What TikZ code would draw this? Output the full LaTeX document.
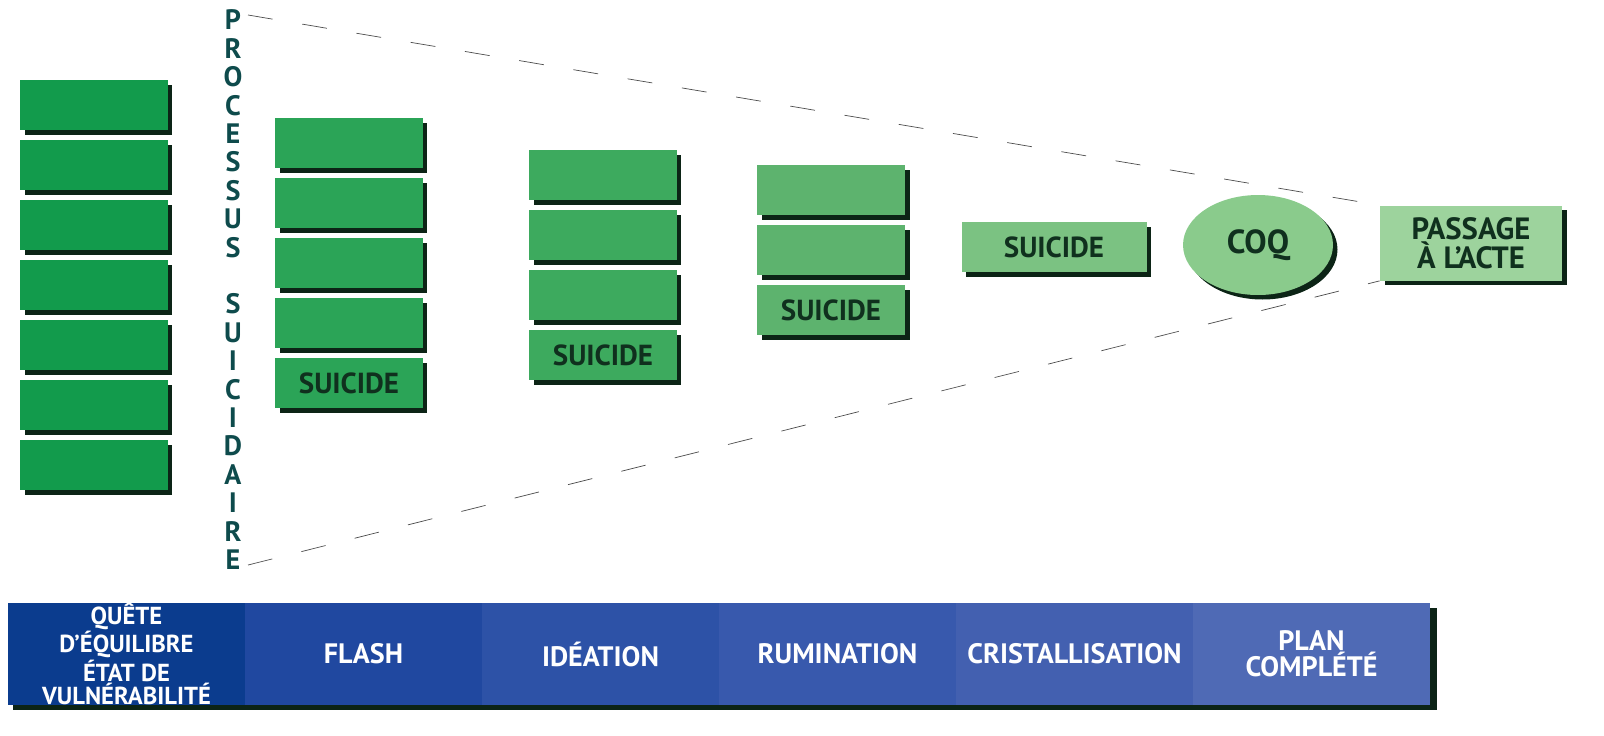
\documentclass[tikz,border=0pt]{standalone}
\usepackage{fontspec}
\setmainfont{PT Sans}
\usetikzlibrary{positioning,shadows,shapes.geometric}

\definecolor{greenA}{HTML}{129B4C}
\definecolor{greenB}{HTML}{2BA457}
\definecolor{greenC}{HTML}{3DAA5E}
\definecolor{greenD}{HTML}{5DB36E}
\definecolor{greenE}{HTML}{7BC282}
\definecolor{greenF}{HTML}{8ACB8C}
\definecolor{greenG}{HTML}{9DD39D}
\definecolor{darkshade}{HTML}{0C2416}
\definecolor{labelgreen}{HTML}{10301E}
\definecolor{teal}{HTML}{0E4B4C}
\definecolor{blueA}{HTML}{0B3C8E}
\definecolor{blueB}{HTML}{2048A0}
\definecolor{blueC}{HTML}{2D52A7}
\definecolor{blueD}{HTML}{3859AD}
\definecolor{blueE}{HTML}{4360B0}
\definecolor{blueF}{HTML}{4F6AB5}

\tikzset{
  box/.style={rectangle, minimum width=2.96cm, minimum height=1cm, inner sep=0pt,
    font=\bfseries\fontsize{16.5}{16.5}\selectfont, text=labelgreen,
    drop shadow={shadow xshift=0.09cm, shadow yshift=-0.09cm, fill=darkshade, opacity=1}},
  stage/.style={rectangle, minimum width=4.74cm, minimum height=2.04cm, inner sep=0pt,
    align=center, text=white, font=\bfseries\fontsize{16}{13}\selectfont},
  letter/.style={inner sep=0pt, text=teal, font=\bfseries\fontsize{16}{16}\selectfont},
  cone/.style={draw=black!70, thin, dash pattern=on 0.5cm off 0.6cm}
}

\begin{document}
\begin{tikzpicture}[x=0.02cm,y=-0.02cm]
    \useasboundingbox (0,0) rectangle (1604,735);

    % first set
    \foreach \i in {1,...,7}
        \node[box,fill=greenA] at (94,{45+60*\i}) (a\i) {};
    % second set
    \foreach \i in {1,...,4}
        \node[box,fill=greenB] at (349,{83+60*\i}) (b\i) {};
    \node[box,fill=greenB] at (349,383) (b5) {SUICIDE};
    % third set
    \foreach \i in {1,...,3}
        \node[box,fill=greenC] at (603,{115+60*\i}) (c\i) {};
    \node[box,fill=greenC] at (603,355) (c4) {SUICIDE};
    % fourth set
    \foreach \i in {1,...,2}
        \node[box,fill=greenD] at (831,{130+60*\i}) (d\i) {};
    \node[box,fill=greenD] at (831,310) (d3) {SUICIDE};
    % last steps
    \node[box,fill=greenE,minimum width=3.7cm] at (1054,247) (e1) {SUICIDE};
    \node[box,ellipse,fill=greenF,minimum width=3cm,minimum height=2cm,
          font=\bfseries\fontsize{19}{19}\selectfont] at (1258,245) (coq) {COQ};
    \node[box,fill=greenG,minimum width=3.64cm,minimum height=1.5cm,align=center,
          font=\bfseries\fontsize{17.5}{15}\selectfont] at (1471,243) (pass) {PASSAGE\\À L'ACTE};

    % vertical title
    \foreach \l [count=\k from 0] in {P,R,O,C,E,S,S,U,S,{},S,U,I,C,I,D,A,I,R,E}
        \node[letter] at (233,{20+28.4*\k}) (v\k) {\l};

    % cone
    \coordinate (top) at (248,15);
    \coordinate (bot) at (248,565);
    \draw[cone] (top) -- (pass.north west);
    \draw[cone] (bot) -- (pass.south west);

    % stages
    \fill[darkshade] (13,608) rectangle (1437,710);
    \foreach \t/\c [count=\k from 0] in {FLASH/blueB, IDÉATION/blueC, RUMINATION/blueD,
        CRISTALLISATION/blueE, PLAN\\COMPLÉTÉ/blueF}
        \node[stage,fill=\c] at ({363.5+237*\k},654) (s\k) {\t};
    \node[stage,fill=blueA,font=\bfseries\fontsize{14}{11.5}\selectfont] at (126.5,654) (q)
        {QUÊTE\\D'ÉQUILIBRE\\ÉTAT DE\\VULNÉRABILITÉ};
\end{tikzpicture}
\end{document}
